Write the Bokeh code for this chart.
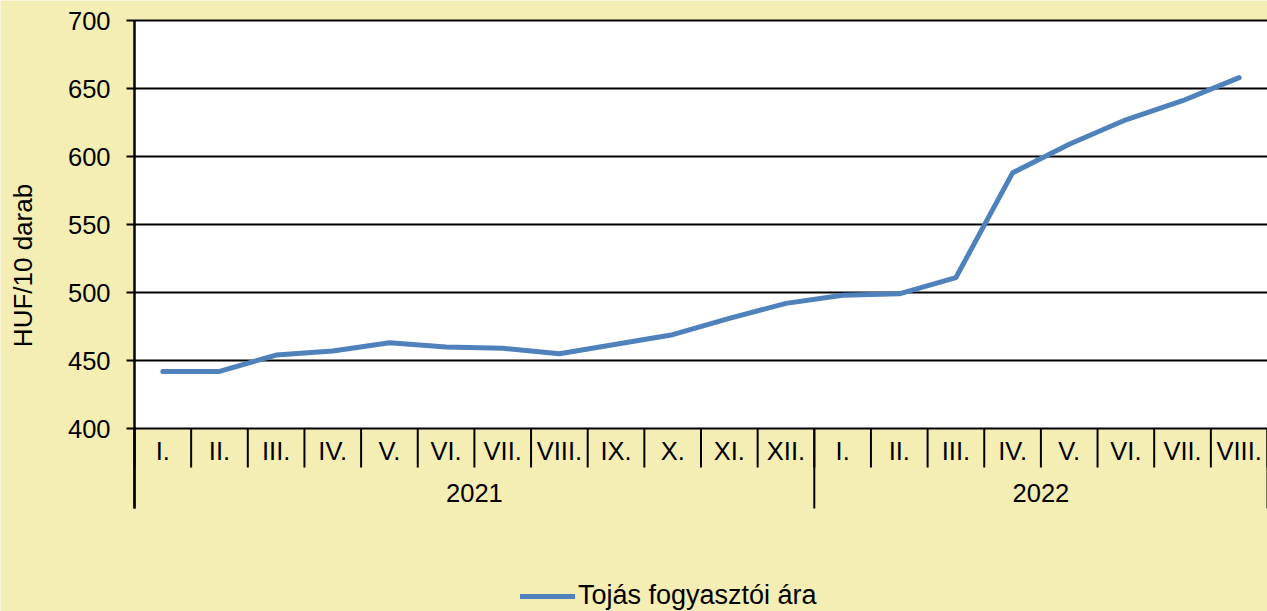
import math
from bokeh.plotting import figure
from bokeh.models import Legend, LegendItem, Range1d
from bokeh.core.properties import value
from bokeh.embed import file_html
from bokeh.resources import INLINE
import numpy as np

years = ["2021", "2022"]
months_2021 = ["I.", "II.", "III.", "IV.", "V.", "VI.", "VII.", "VIII.", "IX.", "X.", "XI.", "XII."]
months_2022 = ["I.", "II.", "III.", "IV.", "V.", "VI.", "VII.", "VIII."]
prices = [442, 442, 454, 457, 463, 460, 459, 455, 462, 469, 481, 492,
          498, 499, 511, 588, 609, 627, 641, 658]
y_ticks = [400, 450, 500, 550, 600, 650, 700]
series_name = "Tojás fogyasztói ára"
y_title = "HUF/10 darab"

BG = "#F5EEB4"
BLUE = "#4F81BD"
FONT = "Liberation Sans"
W_PX, H_PX = 1267, 611

labels = months_2021 + months_2022
n = len(labels)
xc = np.arange(n) + 0.5

ymin, ymax = y_ticks[0], y_ticks[-1]
# layout in pixels: plot area from x=134 to right edge, y=20 (top) to 428 (bottom)
LEFT, TOP, BOTTOM = 134, 20, 428
CW = (W_PX - LEFT) / n                # pixels per category
PX = (BOTTOM - TOP) / (ymax - ymin)   # pixels per value unit

x_start = -LEFT / CW
y_lo = ymin - (H_PX - BOTTOM) / PX
y_hi = ymax + TOP / PX

def ypx(dpx):
    """value that lies dpx pixels below the plot bottom"""
    return ymin - dpx / PX

p = figure(width=W_PX, height=H_PX, output_backend="svg", toolbar_location=None,
           x_range=Range1d(x_start, n), y_range=Range1d(y_lo, y_hi),
           min_border=0, min_border_left=0, min_border_right=0,
           min_border_top=0, min_border_bottom=0)
p.background_fill_color = BG
p.border_fill_color = BG
p.outline_line_color = None
p.grid.visible = False
p.axis.visible = False

# white plot area
p.quad(left=0, right=n, bottom=ymin, top=ymax, fill_color="white", line_color=None)
# horizontal grid lines
k = len(y_ticks)
p.segment(x0=[0] * k, x1=[n] * k, y0=y_ticks, y1=y_ticks, line_color="black", line_width=2)
# y axis line + ticks
p.segment(x0=[0], x1=[0], y0=[ypx(80)], y1=[ymax], line_color="black", line_width=2.5)
p.segment(x0=[-8 / CW] * k, x1=[0] * k, y0=y_ticks, y1=y_ticks, line_color="black", line_width=2)
p.text(x=[-24 / CW] * k, y=y_ticks, text=[str(t) for t in y_ticks], text_font=value(FONT),
       text_font_size="25.5px", text_align="right", text_baseline="middle", text_color="black")
# y title
p.text(x=[(22 - LEFT) / CW], y=[ymax - (265 - TOP) / PX], text=[y_title], angle=math.pi / 2,
       text_font=value(FONT), text_font_size="26px", text_align="center",
       text_baseline="middle", text_color="black")

# category separators
sep_x = np.arange(n + 1)
p.segment(x0=sep_x, x1=sep_x, y0=[ymin] * len(sep_x), y1=[ypx(39)] * len(sep_x),
          line_color="black", line_width=2)
year_bounds = [0, len(months_2021), n]
p.segment(x0=year_bounds, x1=year_bounds, y0=[ymin] * 3, y1=[ypx(80)] * 3,
          line_color="black", line_width=2)

# month labels
p.text(x=xc, y=[ypx(22)] * n, text=labels, text_font=value(FONT),
       text_font_size="25.5px", text_align="center", text_baseline="middle", text_color="black")
# year labels
year_x = [len(months_2021) / 2, len(months_2021) + len(months_2022) / 2]
p.text(x=year_x, y=[ypx(64)] * 2, text=years, text_font=value(FONT),
       text_font_size="25.5px", text_align="center", text_baseline="middle", text_color="black")

r = p.line(xc, prices, line_color=BLUE, line_width=5, line_cap="round", line_join="round")

legend = Legend(items=[LegendItem(label=series_name, renderers=[r])],
                location=(520, 0), padding=0, margin=0, glyph_width=55, glyph_height=28,
                label_height=28, label_standoff=3, label_text_font=FONT,
                label_text_font_size="27px", label_text_baseline="middle",
                label_text_color="black",
                background_fill_alpha=0, border_line_alpha=0)
p.add_layout(legend)

html = file_html(p, INLINE)
html = html.replace("<body>", '<body style="background-color:%s">' % BG, 1)
open("out.html", "w").write(html)
